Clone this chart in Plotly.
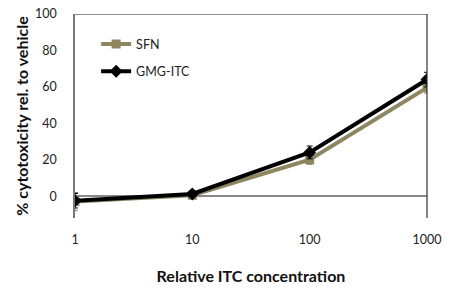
import plotly.graph_objects as go

concentration = [1, 10, 100, 1000]
tick_labels = ["1", "10", "100", "1000"]
sfn_values = [-3, 0.5, 20, 59.5]
sfn_errors = [5, 1.5, 2.5, 3]
gmg_values = [-2.5, 1.2, 24, 64]
gmg_errors = [4, 1.5, 3.5, 4]

SFN_COLOR = "#8d8661"
GMG_COLOR = "#000000"
FONT = "Lato, Open Sans, sans-serif"

fig = go.Figure()
fig.add_trace(go.Scatter(
    x=concentration, y=sfn_values, name="SFN", mode="lines+markers",
    legendgroup="a",
    line=dict(color=SFN_COLOR, width=4),
    marker=dict(symbol="square", size=9, color=SFN_COLOR),
    error_y=dict(type="data", array=sfn_errors, color=SFN_COLOR, thickness=1, width=3),
))
fig.add_trace(go.Scatter(
    x=concentration, y=gmg_values, name="GMG-ITC", mode="lines+markers",
    legendgroup="b",
    line=dict(color=GMG_COLOR, width=4),
    marker=dict(symbol="diamond", size=10, color=GMG_COLOR),
    error_y=dict(type="data", array=gmg_errors, color=GMG_COLOR, thickness=1, width=3),
))

fig.update_layout(
    width=462, height=288,
    margin=dict(l=75, r=35, t=14, b=70, autoexpand=False),
    paper_bgcolor="white", plot_bgcolor="white",
    font=dict(family=FONT, size=12.5, color="#222222"),
    showlegend=True,
    legend=dict(x=0.06, y=0.925, xanchor="left", yanchor="top",
                bgcolor="rgba(0,0,0,0)", font=dict(size=12.5, color="#222222"),
                tracegroupgap=8, itemwidth=30),
    xaxis=dict(type="log", range=[0, 3], tickvals=concentration, ticktext=tick_labels,
               showline=False, showgrid=False, zeroline=False, ticks="",
               automargin=False, ticklabelstandoff=12,
               title=dict(text="<b>Relative ITC concentration</b>", font=dict(size=16, color="#111111"), standoff=25),
               tickfont=dict(size=12.5)),
    yaxis=dict(range=[-12, 100], tickvals=[0, 20, 40, 60, 80, 100],
               showline=True, linecolor="#777777", linewidth=1.5,
               showgrid=False, zeroline=True, zerolinecolor="#888888", zerolinewidth=1.5,
               ticks="", ticklen=0, automargin=False, ticklabelstandoff=14,
               title=dict(text="<b>% cytotoxicity rel. to vehicle</b>", font=dict(size=16, color="#111111"), standoff=2),
               tickfont=dict(size=12.5)),
    shapes=[
        dict(type="line", xref="paper", yref="y", x0=0, x1=1, y0=100, y1=100,
             line=dict(color="#666666", width=1.5)),
        dict(type="line", xref="paper", yref="y", x0=1, x1=1, y0=-12, y1=100,
             line=dict(color="#333333", width=1.2)),
    ],
)

fig.write_html("out.html", config={"displayModeBar": False},
               post_script="document.body.style.margin='0px';")
